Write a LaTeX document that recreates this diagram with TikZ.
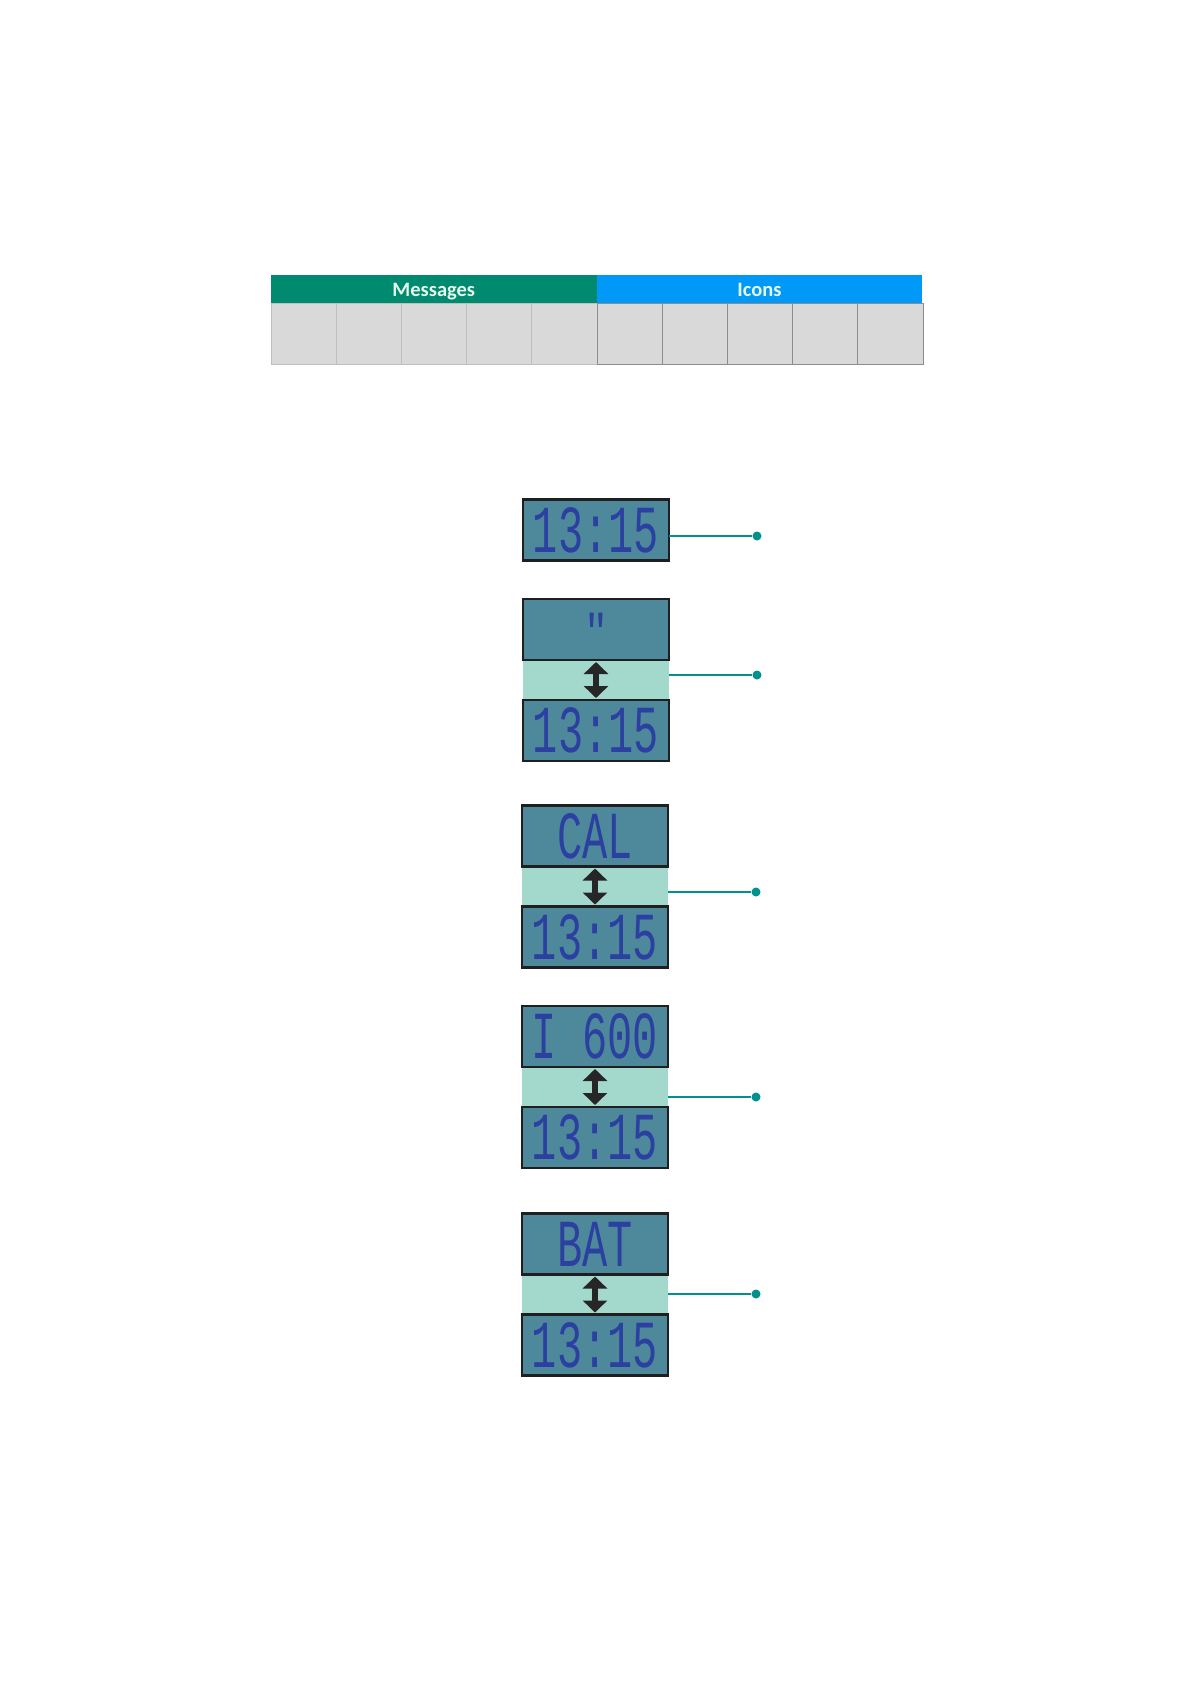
\documentclass[tikz,border=0pt]{standalone}
\usepackage{fontspec}
\usepackage{graphicx}
\usepackage{tikz}
\usetikzlibrary{positioning}
\usetikzlibrary{arrows.meta}

\newfontfamily\lcdfont{Liberation Mono}
\newfontfamily\hdrfont{Carlito}

\definecolor{msggreen}{HTML}{008A6F}
\definecolor{iconblue}{HTML}{0099F7}
\definecolor{hdrtext}{HTML}{E6F7EC}
\definecolor{cellgray}{HTML}{D9D9D9}
\definecolor{lcdfill}{HTML}{4E899B}
\definecolor{lcdline}{HTML}{1F1F1F}
\definecolor{lcdblue}{HTML}{2B40A0}
\definecolor{bandfill}{HTML}{A3D9CC}
\definecolor{linkteal}{HTML}{00918C}

\newcommand{\lcdtext}[1]{\scalebox{1}[1.6]{\lcdfont\fontsize{42}{42}\selectfont #1}}

\begin{document}
\begin{tikzpicture}[x=1pt, y=-1pt,
    lcd/.style={draw=lcdline, line width=2.5pt, fill=lcdfill, text=lcdblue, minimum width=146pt, minimum height=61pt, inner sep=0pt, outer sep=0pt},
    band/.style={fill=bandfill, minimum width=146pt, minimum height=40pt, inner sep=0pt, outer sep=0pt},
    cell/.style={fill=cellgray, line width=1pt, minimum width=65.2pt, minimum height=61pt, inner sep=0pt, outer sep=0pt},
    hdr/.style={minimum width=325.6pt, minimum height=28pt, inner sep=0pt, outer sep=0pt, text height=17pt, text depth=2pt, text=hdrtext, font=\hdrfont\bfseries\fontsize{20.5}{22}\selectfont},
    linkline/.style={draw=linkteal, line width=2pt},
    dotend/.style={circle, fill=linkteal, inner sep=0pt, minimum size=9pt},
    updown/.style={{Triangle[width=24pt,length=12pt]}-{Triangle[width=24pt,length=12pt]}, line width=5.5pt, black!85, shorten <=2pt, shorten >=2pt}]

        \useasboundingbox (0,0) rectangle (1191,1684);

        \def\cellw{65.2} % width of one table cell
        \def\tblx{271} % left edge of the table

        % table: five message cells, five icon cells
        \foreach \i in {0,...,4} {
          \node[cell, draw=black!25] (cell\i) at ({\tblx+\cellw*(\i+0.5)}, 333.5) {};
        }
        \foreach \i in {5,...,9} {
          \node[cell, draw=black!45] (cell\i) at ({\tblx+\cellw*(\i+0.5)}, 333.5) {};
        }

        \node[hdr, fill=msggreen] (messages) at (433.8, 289) {Messages};
        \node[hdr, fill=iconblue] (icons) at (759.4, 289) {Icons};

        % plain clock
        \node[lcd] (lcd1) at (596, 530) {\lcdtext{13:15}};
        \node[dotend] (dot1) at (757, 536) {};
        \draw[linkline] (lcd1.east |- dot1) -- (dot1);

        % clock and message
        \node[band] (band2) at (596, 680) {};
        \node[lcd, above=0pt of band2] (top2) {};
        \node[lcd, below=0pt of band2] (bot2) {\lcdtext{13:15}};
        \node[text=lcdblue, anchor=north, inner sep=0pt] (quote2) at (596, 613) {\scalebox{1}[1.15]{\lcdfont\fontsize{40}{40}\selectfont "}};
        \draw[updown] (band2.north) -- (band2.south);
        \node[dotend] (dot2) at (757, 675) {};
        \draw[linkline] (band2.east |- dot2) -- (dot2);

        \foreach \n/\y/\dy/\msg in {3/886.5/892/CAL, 4/1087/1097/{I 600}, 5/1294.5/1294/BAT} {
          \node[band] (band\n) at (595, \y) {};
          \node[lcd, above=0pt of band\n] (top\n) {\lcdtext{\msg}};
          \node[lcd, below=0pt of band\n] (bot\n) {\lcdtext{13:15}};
          \draw[updown] (band\n.north) -- (band\n.south);
          \node[dotend] (dot\n) at (756, \dy) {};
          \draw[linkline] (band\n.east |- dot\n) -- (dot\n);
        }

      \end{tikzpicture}
\end{document}
